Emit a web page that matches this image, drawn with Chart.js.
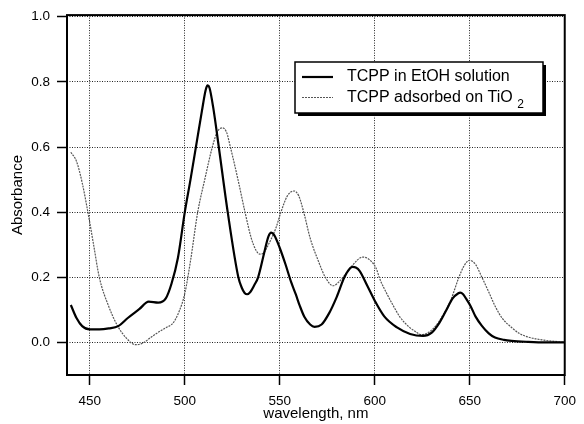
<!DOCTYPE html>
<html>
<head>
<meta charset="utf-8">
<script src="https://cdn.jsdelivr.net/npm/chart.js@4.4.0/dist/chart.umd.min.js"></script>
<style>
html, body { margin: 0; padding: 0; background: #fff; }
</style>
</head>
<body>
<canvas id="myChart" width="584" height="424"></canvas>
<script>
"use strict";

// TCPP in EtOH solution
var wlEtOH = [440, 443, 446, 450, 455, 460, 465, 470, 476, 481, 486, 490, 493, 496.4, 500, 503, 506, 509, 511, 512, 513, 515, 517.9, 522.6, 528.2, 530, 531.5, 532.8, 534.5, 536.5, 538.6, 542, 544, 545.5, 547, 550, 553, 556, 558.4, 560.5, 563, 566, 568.3, 572, 576, 580, 584, 587, 588.4, 590, 592, 596, 600, 605, 611.7, 618.6, 625.4, 630, 634, 637.5, 641, 644, 645, 646.5, 648, 650.4, 653, 656.4, 660, 663.3, 668, 672, 680, 690, 700];
var absEtOH = [0.115, 0.075, 0.05, 0.04, 0.04, 0.043, 0.05, 0.075, 0.102, 0.125, 0.122, 0.135, 0.18, 0.26, 0.4, 0.5, 0.605, 0.71, 0.775, 0.789, 0.782, 0.72, 0.6, 0.4, 0.2, 0.168, 0.152, 0.148, 0.155, 0.175, 0.2, 0.28, 0.325, 0.337, 0.33, 0.29, 0.24, 0.185, 0.148, 0.113, 0.078, 0.055, 0.048, 0.055, 0.09, 0.14, 0.2, 0.228, 0.232, 0.23, 0.22, 0.175, 0.128, 0.08, 0.046, 0.026, 0.02, 0.03, 0.06, 0.097, 0.135, 0.151, 0.153, 0.148, 0.135, 0.112, 0.08, 0.051, 0.028, 0.015, 0.008, 0.005, 0.002, 0, 0];

// TCPP adsorbed on TiO2
var wlTiO2 = [440, 443, 446, 449, 452, 455, 460, 464.6, 469, 474, 478, 482, 486, 490, 494, 497, 500, 503, 506.8, 510.5, 514.5, 517, 519.7, 522, 524, 528, 531.7, 535, 537.5, 539.4, 541.5, 544, 548, 550.6, 554, 557.5, 560, 562.6, 566, 570.3, 574, 578.1, 581, 583.3, 588, 593.6, 597, 600.5, 603, 606.5, 610, 613.4, 618, 622, 624.6, 628, 632, 636, 640, 644.3, 647, 649.8, 653, 656.4, 660, 663.3, 667, 672, 676, 680.5, 689, 695, 700];
var absTiO2 = [0.584, 0.556, 0.49, 0.4, 0.3, 0.2, 0.11, 0.051, 0.015, -0.007, -0.002, 0.015, 0.031, 0.045, 0.061, 0.095, 0.15, 0.25, 0.4, 0.5, 0.6, 0.645, 0.659, 0.645, 0.6, 0.5, 0.4, 0.32, 0.283, 0.271, 0.275, 0.3, 0.352, 0.4, 0.45, 0.465, 0.45, 0.4, 0.32, 0.25, 0.2, 0.174, 0.185, 0.2, 0.235, 0.262, 0.255, 0.23, 0.19, 0.148, 0.11, 0.077, 0.048, 0.031, 0.024, 0.03, 0.05, 0.085, 0.13, 0.2, 0.235, 0.252, 0.24, 0.2, 0.155, 0.112, 0.075, 0.046, 0.028, 0.017, 0.007, 0.003, 0];

var xTicks = [450, 500, 550, 600, 650, 700];
var yTicks = [0, 0.2, 0.4, 0.6, 0.8, 1.0];

function toPoints(xs, ys) {
    var pts = [];
    for (var i = 0; i < xs.length; i++) {
        pts.push({x: xs[i], y: ys[i]});
    }
    return pts;
}

var tickFont = {family: "'Liberation Sans', Arial, sans-serif", size: 13.5};
var titleFont = {family: "'Liberation Sans', Arial, sans-serif", size: 15};

// box around the whole plot area
var framePlugin = {
    id: 'frame',
    afterDatasetsDraw: function(chart) {
        var ctx = chart.ctx, a = chart.chartArea;
        ctx.save();
        ctx.strokeStyle = '#000';
        ctx.lineWidth = 2;
        ctx.strokeRect(a.left, a.top, a.right - a.left, a.bottom - a.top);
        ctx.restore();
    }
};

// legend box with drop shadow and subscript
var legendPlugin = {
    id: 'boxLegend',
    afterDraw: function(chart) {
        var ctx = chart.ctx;
        var x = 295, y = 62, w = 248, h = 51;
        ctx.save();
        ctx.fillStyle = '#000';
        ctx.fillRect(x + 3, y + 3, w, h);
        ctx.fillStyle = '#fff';
        ctx.fillRect(x, y, w, h);
        ctx.strokeStyle = '#000';
        ctx.lineWidth = 1.5;
        ctx.strokeRect(x, y, w, h);

        var ds = chart.data.datasets;
        var rows = [77, 97.5];
        for (var i = 0; i < ds.length; i++) {
            ctx.beginPath();
            ctx.strokeStyle = ds[i].borderColor;
            ctx.lineWidth = ds[i].borderWidth;
            ctx.setLineDash(ds[i].borderDash || []);
            ctx.moveTo(302, rows[i]);
            ctx.lineTo(333, rows[i]);
            ctx.stroke();
        }
        ctx.setLineDash([]);
        ctx.fillStyle = '#000';
        ctx.textBaseline = 'middle';
        ctx.font = "16px 'Liberation Sans', Arial, sans-serif";
        ctx.fillText('TCPP in EtOH solution', 347, rows[0]);
        var t = 'TCPP adsorbed on TiO ';
        ctx.fillText(t, 347, rows[1]);
        var tw = ctx.measureText(t).width;
        ctx.font = "12px 'Liberation Sans', Arial, sans-serif";
        ctx.fillText('2', 347 + tw, rows[1] + 7);
        ctx.restore();
    }
};

var ctx1 = document.getElementById("myChart").getContext('2d');
var myChart1 = new Chart(ctx1, {
    type: 'line',
    data: {
        datasets: [{
            label: 'TCPP in EtOH solution',
            data: toPoints(wlEtOH, absEtOH),
            borderColor: '#000',
            borderWidth: 2.2,
            pointRadius: 0,
            cubicInterpolationMode: 'monotone',
            fill: false
        }, {
            label: 'TCPP adsorbed on TiO2',
            data: toPoints(wlTiO2, absTiO2),
            borderColor: '#555',
            borderWidth: 1.2,
            borderDash: [2, 1],
            pointRadius: 0,
            cubicInterpolationMode: 'monotone',
            fill: false
        }]
    },
    options: {
        responsive: false,
        animation: false,
        layout: {
            padding: {left: 0, right: 10, top: 13, bottom: 0}
        },
        plugins: {
            legend: {display: false},
            tooltip: {enabled: false}
        },
        scales: {
            x: {
                type: 'linear',
                min: 438,
                max: 700,
                afterBuildTicks: function(scale) {
                    scale.ticks = xTicks.map(function(v) { return {value: v}; });
                },
                afterFit: function(scale) { scale.height = 49; },
                grid: {
                    color: '#222',
                    lineWidth: 1,
                    tickLength: 10,
                    tickColor: '#000',
                    tickWidth: 1.5,
                    tickBorderDash: []
                },
                border: {display: false, dash: [1, 1.5]},
                ticks: {
                    font: tickFont,
                    color: '#000',
                    padding: 8,
                    maxRotation: 0,
                    autoSkip: false
                },
                title: {
                    display: true,
                    text: 'wavelength, nm',
                    font: titleFont,
                    color: '#000',
                    padding: {top: 0, bottom: 1}
                }
            },
            y: {
                min: -0.1,
                max: 1.005,
                afterBuildTicks: function(scale) {
                    scale.ticks = yTicks.map(function(v) { return {value: v}; });
                },
                afterFit: function(scale) { scale.width = 67; },
                grid: {
                    color: '#222',
                    lineWidth: 1,
                    tickLength: 10,
                    tickColor: '#000',
                    tickWidth: 1.5,
                    tickBorderDash: []
                },
                border: {display: false, dash: [1, 1.5]},
                ticks: {
                    font: tickFont,
                    color: '#000',
                    padding: 7,
                    callback: function(v) { return v.toFixed(1); }
                },
                title: {
                    display: true,
                    text: 'Absorbance',
                    font: titleFont,
                    color: '#000',
                    padding: {top: 9, bottom: 0}
                }
            }
        }
    },
    plugins: [framePlugin, legendPlugin]
});
</script>
</body>
</html>
